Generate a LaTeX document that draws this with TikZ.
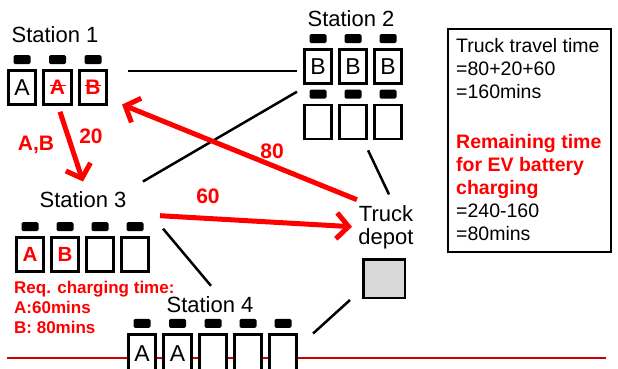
\documentclass[tikz,border=0pt]{standalone}
\usepackage{fontspec}
\setmainfont{Liberation Sans}
\usetikzlibrary{calc, positioning, arrows.meta}
\definecolor{alertRed}{RGB}{255,0,0}
\definecolor{railRed}{RGB}{204,0,0}
\definecolor{depotGrey}{RGB}{217,217,217}

\begin{document}
\begin{tikzpicture}[
  x=1pt, y=-1pt,
  font=\fontsize{22}{23}\selectfont,
  slot/.style={draw, line width=2.6pt, fill=white, minimum width=27.5pt, minimum height=34pt, inner sep=0pt, font=\fontsize{23}{23}\selectfont},
  plug/.style={fill=black, rounded corners=1.5pt, minimum width=17pt, minimum height=9pt, inner sep=0pt},
  crossed/.style={text=alertRed, font=\bfseries\fontsize{21}{23}\selectfont,
    path picture={\draw[alertRed, line width=1.6pt] ([xshift=-8pt,yshift=2pt]path picture bounding box.center) -- ([xshift=8pt,yshift=2pt]path picture bounding box.center);}},
  picked/.style={text=alertRed, font=\bfseries\fontsize{20.5}{23}\selectfont},
  link/.style={draw, line width=2.5pt},
  haul/.style={draw=alertRed, line width=5pt, -{Straight Barb[length=12pt, width=26pt]}},
  num/.style={text=alertRed, font=\bfseries\fontsize{21}{23}\selectfont, anchor=base},
  depotbox/.style={draw, line width=2.5pt, fill=depotGrey, minimum width=41.5pt, minimum height=38.5pt, inner sep=0pt}
]
\useasboundingbox (0,0) rectangle (618,368);

% station 1
\node[anchor=base] (st1) at (55,42) {Station 1};
\node[slot] (s1a) at (22,87.5) {A};
\node[slot, crossed] (s1b) at (57.5,87.5) {A};
\node[slot, crossed] (s1c) at (93,87.5) {B};
\foreach \n in {a,b,c} \node[plug, above=5pt of s1\n] (k1\n) {};

% station 2
\node[anchor=base] (st2) at (351,26) {Station 2};
\foreach \n/\x in {a/318,b/353,c/388} \node[slot] (s2\n) at (\x,66.5) {B};
\foreach \n/\x in {d/318,e/353,f/388} \node[slot] (s2\n) at (\x,122) {};
\foreach \n in {a,...,f} \node[plug, above=5pt of s2\n] (k2\n) {};

% station 3
\node[anchor=base] (st3) at (83,207) {Station 3};
\node[slot, picked] (s3a) at (30,254.5) {A};
\node[slot, picked] (s3b) at (65,254.5) {B};
\foreach \n/\x in {c/100,d/135} \node[slot] (s3\n) at (\x,254.5) {};
\foreach \n in {a,...,d} \node[plug, above=5pt of s3\n] (k3\n) {};
\node[anchor=north west, align=left, inner sep=0pt, text=alertRed, font=\bfseries\fontsize{17}{20}\selectfont] (need) at (14,280.5) {Req. charging time:\\A:60mins\\B: 80mins};

% station 4 on the rail
\draw[railRed, line width=2.5pt] (7,358) -- (606,358);
\node[anchor=base] (st4) at (210,312) {Station 4};
\foreach \n/\x/\t in {a/142/A,b/177.5/A,c/213/,d/248/,e/283/} \node[slot, minimum height=38pt] (s4\n) at (\x,353.3) {\t};
\foreach \n in {a,...,e} \node[plug, above=5pt of s4\n] (k4\n) {};

% truck depot
\node[depotbox] (depot) at (384,278.5) {};
\node[align=center, above=5pt of depot, xshift=2pt] (depotLbl) {Truck\\depot};

% summary
\node[draw, line width=1.6pt, minimum width=163.4pt, minimum height=223.4pt, inner sep=0pt] (noteBox) at (529.5,140.5) {};
\node[anchor=north west, align=left, inner sep=0pt, font=\fontsize{19.5}{23}\selectfont] (noteTxt) at ([shift={(9,10)}]noteBox.north west) {Truck travel time\\=80+20+60\\=160mins\\[27pt]
  \textcolor{alertRed}{\bfseries Remaining time}\\\textcolor{alertRed}{\bfseries for EV battery}\\\textcolor{alertRed}{\bfseries charging}\\=240-160\\=80mins};

% road links
\draw[link] ($(s1c.east)+(20,-16.5)$) -- ($(s2a.west)+(-6,4.5)$);
\draw[link] ($(st3.north east)+(13,-6)$) -- ($(s2d.north west)+(-6,-12)$);
\draw[link] ($(s2e.south east)+(0,10)$) -- ($(depotLbl.north)+(3,-8)$);
\draw[link] ($(s3d.north east)+(13,-7.5)$) -- ($(st4.north)+(1,-6.7)$);
\draw[link] ($(s4e.north east)+(15,0.5)$) -- ($(depot.south west)+(-12,1)$);

% truck route
\draw[haul] ($(s1b.south)+(2.5,6)$) -- ($(st3.north)+(0,-6)$);
\draw[haul] ($(s3d.north east)+(10,-20.5)$) -- ($(depotLbl.west)+(-3,-1)$);
\draw[haul] ($(depotLbl.north west)+(2,-2.7)$) -- ($(s1c.south east)+(14,-1.25)$);
\node[num] (lblAB) at (36,150) {A,B};
\node[num] (lbl20) at (91,143) {20};
\node[num] (lbl80) at (272,158) {80};
\node[num] (lbl60) at (208,203) {60};
\end{tikzpicture}
\end{document}
